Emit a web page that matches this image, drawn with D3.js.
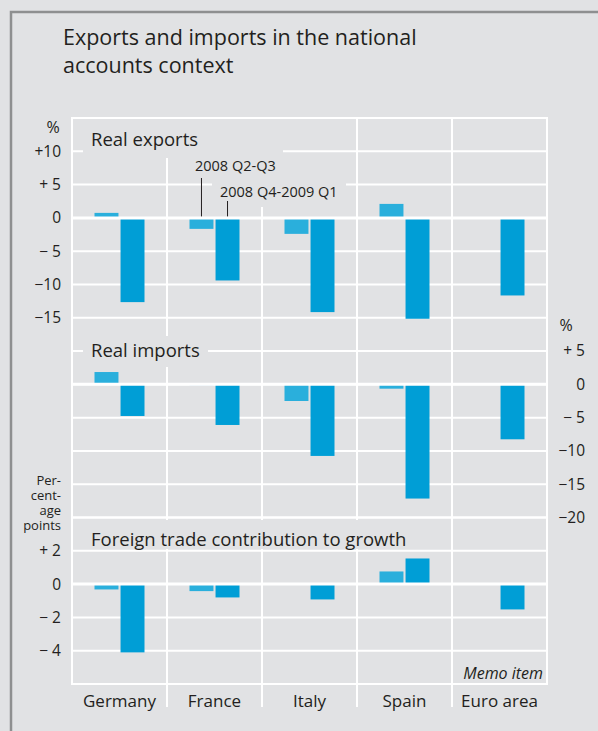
<!doctype html>
<html>
<head>
<meta charset="utf-8">
<title>Exports and imports in the national accounts context</title>
<script src="https://cdn.jsdelivr.net/npm/d3@7"></script>
<style>
  html, body { margin: 0; padding: 0; background: #e1e2e4; }
  svg text { font-family: "Open Sans", "Noto Sans", sans-serif; fill: #231f20; }
</style>
</head>
<body>
<script>
// data
var countries = ["Germany", "France", "Italy", "Spain", "Euro area"];
var periods = ["2008 Q2-Q3", "2008 Q4-2009 Q1"];
var exportsQ2Q3 = [0.75, -1.65, -2.4, 2.1, 0];
var exportsQ4Q1 = [-12.65, -9.4, -14.15, -15.15, -11.65];
var importsQ2Q3 = [1.85, -0.1, -2.5, -0.65, 0.1];
var importsQ4Q1 = [-4.75, -6.1, -10.75, -17.15, -8.25];
var tradeQ2Q3 = [-0.32, -0.42, -0.05, 0.76, -0.05];
var tradeQ4Q1 = [-4.1, -0.8, -0.92, 1.54, -1.52];
var exportTicks = ["+10", "+ 5", "0", "\u2212 5", "\u221210", "\u221215"];
var exportTickVals = [10, 5, 0, -5, -10, -15];
var importTicks = ["+ 5", "0", "\u2212 5", "\u221210", "\u221215", "\u221220"];
var importTickVals = [5, 0, -5, -10, -15, -20];
var tradeTicks = ["+ 2", "0", "\u2212 2", "\u2212 4"];
var tradeTickVals = [2, 0, -2, -4];

var W = 598, H = 731;
var colors = ["#2aafdc", "#009ed6"];
var bg = "#e1e2e4";

var svg = d3.select("body").append("svg")
    .attr("width", W)
    .attr("height", H);

// outer frame
svg.append("rect")
    .attr("x", 11).attr("y", 12)
    .attr("width", W + 20).attr("height", H + 20)
    .attr("fill", "none")
    .attr("stroke", "#8e8f90")
    .attr("stroke-width", 2.5);

// title
var title = svg.append("text")
    .attr("x", 63).attr("y", 45)
    .style("font-size", "21.5px");
title.append("tspan").attr("x", 63).text("Exports and imports in the national");
title.append("tspan").attr("x", 63).attr("dy", 28).text("accounts context");

var plotL = 72, plotR = 547, plotT = 118, plotB = 684;
var step = (plotB - plotT) / 17;

var x = d3.scaleBand().domain(countries).range([plotL, plotR]);
var xIn = d3.scaleBand().domain(periods).range([22.5, 72.5]).paddingInner(0.08);

var panels = [
  { name: "Real exports", q1: exportsQ2Q3, q2: exportsQ4Q1, ticks: exportTicks, tickVals: exportTickVals, by: 5,
    y: d3.scaleLinear().domain([15, -20]).range([plotT, plotT + 7 * step]), side: "left" },
  { name: "Real imports", q1: importsQ2Q3, q2: importsQ4Q1, ticks: importTicks, tickVals: importTickVals, by: 5,
    y: d3.scaleLinear().domain([5, -20]).range([plotT + 7 * step, plotT + 12 * step]), side: "right" },
  { name: "Foreign trade contribution to growth", q1: tradeQ2Q3, q2: tradeQ4Q1, ticks: tradeTicks, tickVals: tradeTickVals, by: 2,
    y: d3.scaleLinear().domain([4, -6]).range([plotT + 12 * step, plotB]), side: "left" }
];

var grid = svg.append("g");

// horizontal gridlines
panels.forEach(function(p) {
  var vals = d3.range(p.y.domain()[0], p.y.domain()[1] - 0.01, -p.by);
  grid.selectAll(null)
      .data(vals)
      .enter().append("line")
      .attr("x1", plotL).attr("x2", plotR)
      .attr("y1", function(d) { return p.y(d); })
      .attr("y2", function(d) { return p.y(d); })
      .attr("stroke", "#fff")
      .attr("stroke-width", 2);
});

// vertical lines
grid.selectAll(null)
    .data(countries.slice(1))
    .enter().append("line")
    .attr("x1", function(d) { return x(d); })
    .attr("x2", function(d) { return x(d); })
    .attr("y1", plotT).attr("y2", plotB + 23)
    .attr("stroke", "#fff").attr("stroke-width", 2);
grid.selectAll(null)
    .data([plotL, plotR])
    .enter().append("line")
    .attr("x1", function(d) { return d; })
    .attr("x2", function(d) { return d; })
    .attr("y1", plotT - 1).attr("y2", plotB + 1)
    .attr("stroke", "#fff").attr("stroke-width", 2);

// label boxes covering the grid
var boxes = [[83, plotT + 1, 200, 39], [190, 158, 93, 22], [212, 180, 134, 27],
             [83, 336, 125, 31], [83, 520, 345, 29]];
svg.selectAll(null)
    .data(boxes)
    .enter().append("rect")
    .attr("x", function(d) { return d[0]; })
    .attr("y", function(d) { return d[1]; })
    .attr("width", function(d) { return d[2]; })
    .attr("height", function(d) { return d[3]; })
    .attr("fill", bg);

panels.forEach(function(p, pi) {
  var g = svg.append("g");
  [p.q1, p.q2].forEach(function(series, si) {
    g.selectAll(null)
        .data(series)
        .enter().append("rect")
        .attr("x", function(d, i) { return x(countries[i]) + xIn(periods[si]); })
        .attr("width", xIn.bandwidth())
        .attr("y", function(d) { return p.y(Math.max(0, d)); })
        .attr("height", function(d) { return Math.max(Math.abs(p.y(d) - p.y(0)), 0.8); })
        .attr("fill", colors[si]);
  });

  // zero line on top of bars
  g.append("line")
      .attr("x1", plotL).attr("x2", plotR)
      .attr("y1", p.y(0)).attr("y2", p.y(0))
      .attr("stroke", "#fff").attr("stroke-width", 3);

  // tick labels
  g.selectAll(null)
      .data(p.tickVals)
      .enter().append("text")
      .attr("x", p.side === "left" ? 61 : 585)
      .attr("y", function(d) { return p.y(d); })
      .attr("dy", "0.35em")
      .attr("text-anchor", "end")
      .style("font-size", "15.5px")
      .text(function(d, i) { return p.ticks[i]; });

  // panel title
  g.append("text")
      .attr("x", 91)
      .attr("y", [146, 357, 546][pi])
      .style("font-size", "18.5px")
      .text(p.name);
});

// units
svg.append("text").attr("x", 53).attr("y", 133).attr("text-anchor", "middle")
    .style("font-size", "16px").text("%");
svg.append("text").attr("x", 566).attr("y", 331).attr("text-anchor", "middle")
    .style("font-size", "16px").text("%");
["Per-", "cent-", "age", "points"].forEach(function(t, i) {
  svg.append("text").attr("text-anchor", "end")
      .attr("x", 61).attr("y", 485 + i * 15)
      .style("font-size", "13px")
      .text(t);
});

// annotations with leader lines
var ex = panels[0].y;
var fr = "France";
svg.append("text").attr("x", 195).attr("y", 171).style("font-size", "14.5px").text(periods[0]);
svg.append("text").attr("x", 220).attr("y", 197).style("font-size", "14.5px").text(periods[1]);
svg.append("line")
    .attr("x1", x(fr) + xIn(periods[0]) + xIn.bandwidth() / 2)
    .attr("x2", x(fr) + xIn(periods[0]) + xIn.bandwidth() / 2)
    .attr("y1", 178).attr("y2", ex(0) - 1.5)
    .attr("stroke", "#231f20").attr("stroke-width", 1);
svg.append("line")
    .attr("x1", x(fr) + xIn(periods[1]) + xIn.bandwidth() / 2)
    .attr("x2", x(fr) + xIn(periods[1]) + xIn.bandwidth() / 2)
    .attr("y1", 201).attr("y2", ex(0) - 1.5)
    .attr("stroke", "#231f20").attr("stroke-width", 1);

// memo item
svg.append("text").attr("x", 543).attr("y", 679).attr("text-anchor", "end")
    .style("font-size", "16px").style("font-style", "italic").text("Memo item");

// country labels
svg.selectAll(null)
    .data(countries)
    .enter().append("text")
    .attr("x", function(d) { return x(d) + x.bandwidth() / 2; })
    .attr("y", 707)
    .attr("text-anchor", "middle")
    .style("font-size", "17px")
    .text(function(d) { return d; });
</script>
</body>
</html>
